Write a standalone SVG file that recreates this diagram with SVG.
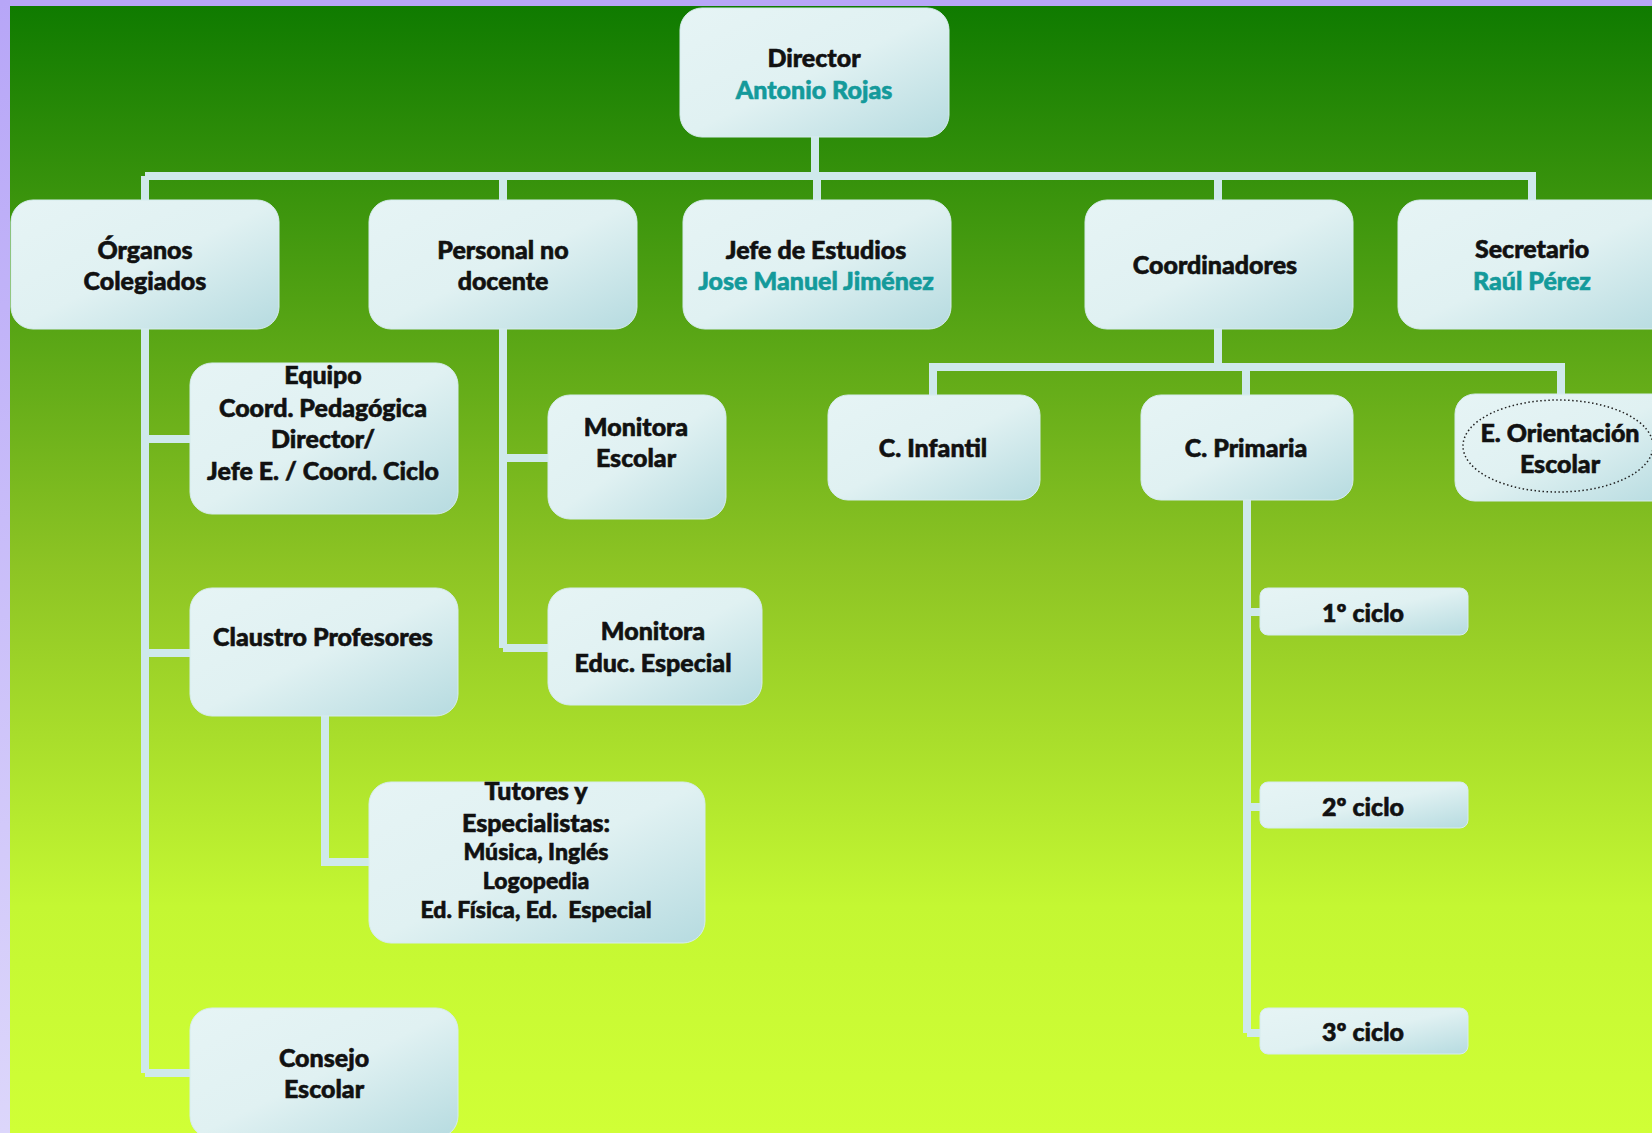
<svg xmlns="http://www.w3.org/2000/svg" width="1652" height="1133" viewBox="0 0 1652 1133">
<defs>
<linearGradient id="bg" x1="0" y1="0" x2="0" y2="1">
<stop offset="0" stop-color="#0e7a00"/>
<stop offset="0.5" stop-color="#8dc424"/>
<stop offset="0.8" stop-color="#c4f732"/>
<stop offset="1" stop-color="#d0ff36"/>
</linearGradient>
<linearGradient id="side" x1="0" y1="0" x2="0" y2="1">
<stop offset="0" stop-color="#b7a6f7"/>
<stop offset="1" stop-color="#dcd6fb"/>
</linearGradient>
<linearGradient id="box" x1="0" y1="0" x2="1" y2="1">
<stop offset="0" stop-color="#e6f4f5"/>
<stop offset="0.5" stop-color="#e0f1f2"/>
<stop offset="1" stop-color="#b6dbe0"/>
</linearGradient>
<style>
.b{fill:url(#box);stroke:#d6ecee;stroke-width:1}
.c{stroke:#cfe9eb;stroke-width:8;fill:none}
text{font-family:Lato,"Open Sans","DejaVu Sans",sans-serif;font-weight:900;font-size:25px;fill:#111;stroke:#111;stroke-width:0.6;text-anchor:middle}
.n{fill:#149a9b;stroke:#149a9b}
.s{font-size:23px}
</style>
</defs>
<rect x="0" y="0" width="1652" height="1133" fill="url(#bg)"/>
<rect x="0" y="0" width="1652" height="6" fill="#b7a6f7"/>
<rect x="0" y="0" width="10" height="1133" fill="url(#side)"/>
<g id="connectors" class="c">
<path d="M815 137 V176 M145 176 H1536 M145 176 V200 M503 176 V200 M817 176 V200 M1218 176 V200 M1532 176 V200"/>
<path d="M145 329 V1073 M145 439 H190 M145 653 H190 M145 1073 H190"/>
<path d="M325 716 V862 H369"/>
<path d="M503 329 V648 M503 458 H548 M503 648 H548"/>
<path d="M1218 329 V367 M933 395 V367 H1561 V395 M1246 367 V395"/>
<path d="M1247 500 V1033 M1247 612 H1260 M1247 807 H1260 M1247 1033 H1260"/>
</g>
<g id="director"><rect class="b" x="680" y="8" width="269" height="129" rx="22"/><text x="814" y="67">Director</text><text class="n" x="814" y="99">Antonio Rojas</text></g>
<g id="organos"><rect class="b" x="11" y="200" width="268" height="129" rx="22"/><text x="145" y="259">Órganos</text><text x="145" y="290">Colegiados</text></g>
<g id="personal"><rect class="b" x="369" y="200" width="268" height="129" rx="22"/><text x="503" y="259">Personal no</text><text x="503" y="290">docente</text></g>
<g id="jefe"><rect class="b" x="683" y="200" width="268" height="129" rx="22"/><text x="816" y="259">Jefe de Estudios</text><text class="n" x="816" y="290">Jose Manuel Jiménez</text></g>
<g id="coordinadores"><rect class="b" x="1085" y="200" width="268" height="129" rx="22"/><text x="1215" y="274">Coordinadores</text></g>
<g id="secretario"><rect class="b" x="1398" y="200" width="280" height="129" rx="22"/><text x="1532" y="258">Secretario</text><text class="n" x="1532" y="290">Raúl Pérez</text></g>
<g id="equipo"><rect class="b" x="190" y="363" width="268" height="151" rx="22"/><text x="323" y="384">Equipo</text><text x="323" y="417">Coord. Pedagógica</text><text x="323" y="448">Director/</text><text x="323" y="480">Jefe E. / Coord. Ciclo</text></g>
<g id="claustro"><rect class="b" x="190" y="588" width="268" height="128" rx="22"/><text x="323" y="646">Claustro Profesores</text></g>
<g id="tutores"><rect class="b" x="369" y="782" width="336" height="161" rx="22"/><text x="536" y="800">Tutores y</text><text x="536" y="832">Especialistas:</text><text class="s" x="536" y="860">Música, Inglés</text><text class="s" x="536" y="889">Logopedia</text><text class="s" x="536" y="918">Ed. Física, Ed.&#160; Especial</text></g>
<g id="consejo"><rect class="b" x="190" y="1008" width="268" height="130" rx="22"/><text x="324" y="1067">Consejo</text><text x="324" y="1098">Escolar</text></g>
<g id="monitora-escolar"><rect class="b" x="548" y="395" width="178" height="124" rx="22"/><text x="636" y="436">Monitora</text><text x="636" y="467">Escolar</text></g>
<g id="monitora-educ"><rect class="b" x="548" y="588" width="214" height="117" rx="22"/><text x="653" y="640">Monitora</text><text x="653" y="672">Educ. Especial</text></g>
<g id="infantil"><rect class="b" x="828" y="395" width="212" height="105" rx="20"/><text x="933" y="457">C. Infantil</text></g>
<g id="primaria"><rect class="b" x="1141" y="395" width="212" height="105" rx="20"/><text x="1246" y="457">C. Primaria</text></g>
<g id="orientacion"><rect class="b" x="1455" y="394" width="220" height="107" rx="20"/><ellipse cx="1558" cy="446" rx="95" ry="46" fill="none" stroke="#222" stroke-width="1.5" stroke-dasharray="1.5 2.5"/><text x="1560" y="442">E. Orientación</text><text x="1560" y="473">Escolar</text></g>
<g id="ciclo1"><rect class="b" x="1260" y="588" width="208" height="47" rx="8"/><text x="1363" y="622">1º ciclo</text></g>
<g id="ciclo2"><rect class="b" x="1260" y="782" width="208" height="46" rx="8"/><text x="1363" y="816">2º ciclo</text></g>
<g id="ciclo3"><rect class="b" x="1260" y="1008" width="208" height="46" rx="8"/><text x="1363" y="1041">3º ciclo</text></g>
</svg>
